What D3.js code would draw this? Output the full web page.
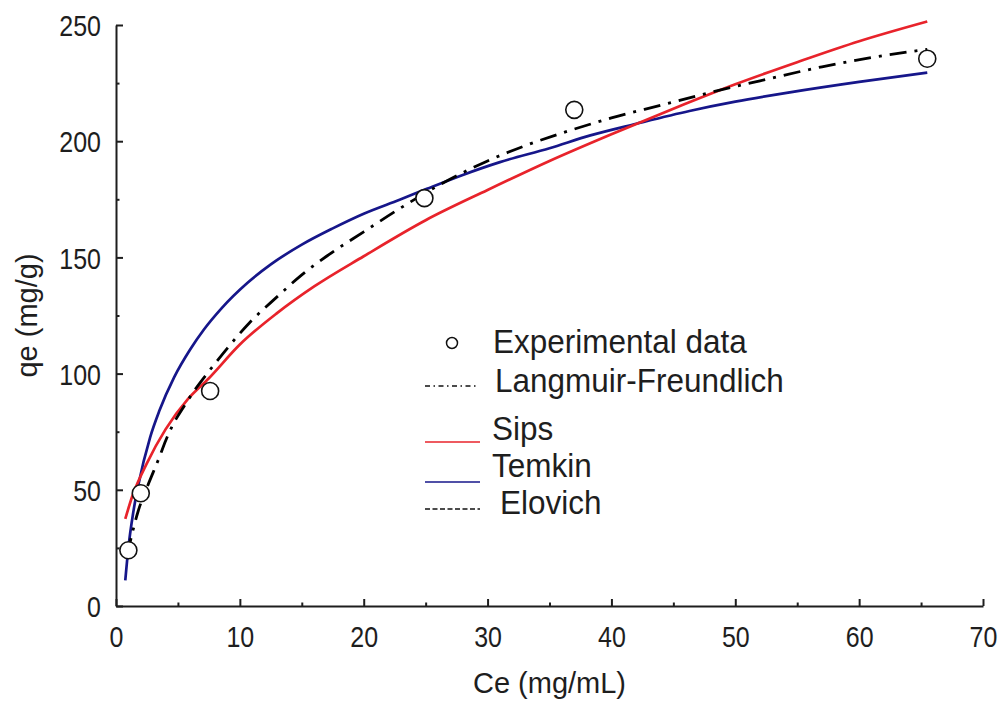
<!DOCTYPE html>
<html>
<head>
<meta charset="utf-8">
<script src="https://cdn.jsdelivr.net/npm/d3@7"></script>
<style>
  html, body { margin: 0; padding: 0; background: #ffffff; }
  svg { display: block; }
</style>
</head>
<body>
<script>
// ---------- data ----------
const expCe = [1.0, 2.0, 7.6, 24.9, 37.0, 65.5];
const expQe = [24, 48.5, 92.5, 175.5, 213.5, 235.5];

const sipsCe = [0.75, 1.3, 2.5, 4, 5.8, 7.5, 10, 13, 16, 20, 25, 30, 35, 40, 45, 50, 55, 60, 65.5];
const sipsQe = [37.5, 47, 61.5, 76, 89, 98, 112.5, 126, 137.5, 150.5, 166, 179, 191.5, 203, 214, 224.5, 234, 243, 251.5];

const temkinCe = [0.75, 1.0, 1.4, 1.8, 2.75, 3.5, 4.7, 6, 7.1, 8.5, 10.6, 12.5, 15, 17.5, 20, 22.9, 25.1, 28, 31, 35, 38.3, 42, 46.3, 50, 54.4, 60, 65.5];
const temkinQe = [11, 25, 40.5, 52, 72.5, 84, 98.5, 110.5, 119, 128, 139, 147, 155.5, 162.5, 168.8, 174.8, 179.5, 185.5, 191, 197, 202.5, 207.5, 213, 217, 221, 225.5, 229.5];

const lfCe = [0.9, 1.8, 2.5, 3.0, 3.5, 4.0, 4.5, 5.5, 6.5, 7.5, 9, 10.8, 13, 15, 17, 20, 22.9, 26.4, 30, 33, 36, 40, 44, 48, 52, 57, 61, 65.5];
const lfQe = [22, 41, 51, 57.5, 64, 71, 77, 86, 94, 101, 111, 122, 133, 142.5, 150.5, 161, 171, 182, 191.5, 198, 203.5, 210, 215.5, 221, 226, 232, 236, 239.5];

const xTicks = [0, 10, 20, 30, 40, 50, 60, 70];
const xMinor = [5, 15, 25, 35, 45, 55, 65];
const yTicks = [0, 50, 100, 150, 200, 250];
const yMinor = [25, 75, 125, 175, 225];

const legendLabels = ["Experimental data", "Langmuir-Freundlich", "Sips", "Temkin", "Elovich"];
const xTitle = "Ce (mg/mL)";
const yTitle = "qe (mg/g)";

// ---------- drawing ----------
const FONT = "Arial, 'Liberation Sans', Helvetica, sans-serif";
const INK = "#1e1e1e";
const RED = "#e8232b";
const BLUE = "#16168a";

const svg = d3.select("body").append("svg")
  .attr("width", 1001).attr("height", 704)
  .style("background", "#fff");

const x = d3.scaleLinear().domain([0, 70]).range([116, 983]);
const y = d3.scaleLinear().domain([0, 250]).range([606, 25]);

// minor ticks
const gxm = svg.append("g").attr("transform", "translate(0,606)")
  .call(d3.axisBottom(x).tickValues(xMinor).tickSize(-3.5).tickSizeOuter(0).tickFormat(() => ""));
gxm.select(".domain").remove();
gxm.selectAll(".tick line").attr("stroke", INK).attr("stroke-width", 2);

const gym = svg.append("g").attr("transform", "translate(116,0)")
  .call(d3.axisLeft(y).tickValues(yMinor).tickSize(-3.5).tickSizeOuter(0).tickFormat(() => ""));
gym.select(".domain").remove();
gym.selectAll(".tick line").attr("stroke", INK).attr("stroke-width", 2);

// major axes
const gx = svg.append("g").attr("transform", "translate(0,606)")
  .call(d3.axisBottom(x).tickValues(xTicks).tickSize(-7).tickSizeOuter(0));
gx.select(".domain").attr("stroke", INK).attr("stroke-width", 2);
gx.selectAll(".tick line").attr("stroke", INK).attr("stroke-width", 2);
gx.selectAll(".tick text")
  .attr("font-family", FONT).attr("font-size", 25).attr("fill", INK)
  .attr("y", 34).attr("dy", 0)
  .attr("transform", "scale(1,1.2)");

const gy = svg.append("g").attr("transform", "translate(116,0)")
  .call(d3.axisLeft(y).tickValues(yTicks).tickSize(-7).tickSizeOuter(0).tickPadding(15));
gy.select(".domain").attr("stroke", INK).attr("stroke-width", 2);
gy.selectAll(".tick line").attr("stroke", INK).attr("stroke-width", 2);
gy.selectAll(".tick text")
  .attr("font-family", FONT).attr("font-size", 25).attr("fill", INK)
  .attr("dy", "0.358em")
  .attr("transform", "scale(1,1.2)");

// axis titles
svg.append("text")
  .attr("x", (x(0) + x(70)) / 2).attr("y", 693)
  .attr("text-anchor", "middle")
  .attr("font-family", FONT).attr("font-size", 29).attr("fill", INK)
  .text(xTitle);

svg.append("text")
  .attr("transform", `translate(37,${(y(0) + y(250)) / 2}) rotate(-90)`)
  .attr("text-anchor", "middle")
  .attr("font-family", FONT).attr("font-size", 29).attr("fill", INK)
  .text(yTitle);

// curves
const line = d3.line().x(d => x(d[0])).y(d => y(d[1])).curve(d3.curveMonotoneX);
const pts = (xs, ys) => xs.map((v, i) => [v, ys[i]]);

svg.append("path").datum(pts(temkinCe, temkinQe))
  .attr("d", line).attr("fill", "none")
  .attr("stroke", BLUE).attr("stroke-width", 2.7);

svg.append("path").datum(pts(sipsCe, sipsQe))
  .attr("d", line).attr("fill", "none")
  .attr("stroke", RED).attr("stroke-width", 2.7);

svg.append("path").datum(pts(lfCe, lfQe))
  .attr("d", line).attr("fill", "none")
  .attr("stroke", "#000").attr("stroke-width", 2.8)
  .attr("stroke-dasharray", "17,8,3,8");

// experimental points
svg.append("g").selectAll("circle")
  .data(pts(expCe, expQe))
  .join("circle")
  .attr("cx", d => x(d[0])).attr("cy", d => y(d[1]))
  .attr("r", 8.5)
  .attr("fill", "#fff").attr("stroke", "#111").attr("stroke-width", 1.6);

// legend
const leg = svg.append("g");
const legText = [
  { t: legendLabels[0], x: 493, y: 353 },
  { t: legendLabels[1], x: 495, y: 392 },
  { t: legendLabels[2], x: 492, y: 440 },
  { t: legendLabels[3], x: 492, y: 477 },
  { t: legendLabels[4], x: 500, y: 514 }
];
leg.selectAll("text").data(legText).join("text")
  .attr("transform", d => `translate(${d.x},${d.y}) scale(1,1.08)`)
  .attr("font-family", FONT).attr("font-size", 31.5).attr("fill", INK)
  .text(d => d.t);

leg.append("circle").attr("cx", 452).attr("cy", 343).attr("r", 5.5)
  .attr("fill", "#fff").attr("stroke", "#111").attr("stroke-width", 1.5);
leg.append("line").attr("x1", 425).attr("x2", 478).attr("y1", 386).attr("y2", 386)
  .attr("stroke", "#111").attr("stroke-width", 1.6).attr("stroke-dasharray", "5,3.5,1.5,3.5");
leg.append("line").attr("x1", 425).attr("x2", 480).attr("y1", 442).attr("y2", 442)
  .attr("stroke", RED).attr("stroke-width", 1.6);
leg.append("line").attr("x1", 425).attr("x2", 480).attr("y1", 482).attr("y2", 482)
  .attr("stroke", BLUE).attr("stroke-width", 1.6);
leg.append("line").attr("x1", 425).attr("x2", 480).attr("y1", 509).attr("y2", 509)
  .attr("stroke", "#111").attr("stroke-width", 1.4).attr("stroke-dasharray", "5,2.5");
</script>
</body>
</html>
